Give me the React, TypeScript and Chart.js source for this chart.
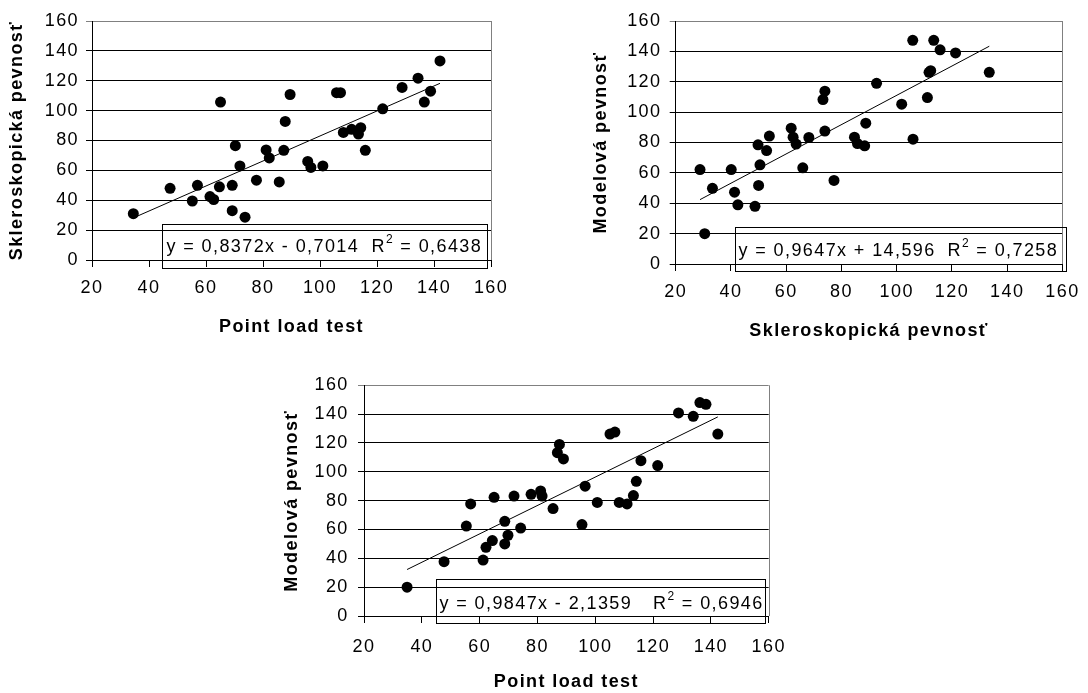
import React, { useEffect, useRef } from "react";
import { Chart, registerables } from "chart.js";

Chart.register(...registerables);

const PAGE_W = 1088;
const PAGE_H = 693;
const FONT = "'Liberation Sans', Arial, Helvetica, sans-serif";
const LETTER_SPACING = "1.4px";

const xTicks = [20, 40, 60, 80, 100, 120, 140, 160];
const yTicks = [0, 20, 40, 60, 80, 100, 120, 140, 160];

// Chart A: Point load test (x) vs Skleroskopická pevnosť (y)
const pointLoadA = [34.5, 47.4, 57, 55.2, 61.4, 62.7, 64.7, 65.1, 69.2, 69.2, 70.3, 71.9, 73.7, 77.7, 81.1, 82.2, 85.7, 87.3, 87.8, 89.5, 95.7, 96.8, 101, 105.8, 107.2, 108.2, 111.1, 113.5, 114.3, 115.9, 122, 128.8, 134.4, 136.6, 138.8, 142.1];
const sklerA = [31, 48, 50, 39.5, 42.5, 40.5, 49, 105.7, 50, 33, 76.5, 63, 28.7, 53.4, 73.7, 68.3, 52.3, 73.4, 92.8, 110.8, 66, 62, 63, 112, 112, 85.4, 87.5, 84.3, 88.6, 73.4, 101.2, 115.5, 121.7, 105.7, 113, 133.3];
const trendA = [0.8372, -0.7014];
const eqA = "y = 0,8372x - 0,7014";
const r2A = "0,6438";

// Chart B: Skleroskopická pevnosť (x) vs Modelová pevnosť (y)
const sklerB = [28.8, 30.5, 33.3, 40.1, 41.3, 42.5, 48.7, 49.8, 50, 50.5, 52.9, 53.9, 61.8, 62.5, 63.6, 66, 68.2, 73.3, 74, 74, 77.3, 84.7, 85.8, 88.4, 88.8, 92.7, 101.8, 105.8, 105.9, 111.1, 111.7, 112.3, 113.4, 115.7, 121.3, 133.5];
const modelB = [62.2, 20, 49.8, 62.2, 47.3, 39, 38, 78.5, 51.7, 65.3, 74.7, 84.2, 89.4, 83.5, 79, 63.3, 83.3, 108.3, 113.8, 87.5, 55, 83.5, 79.3, 77.8, 92.7, 119, 105.2, 147.3, 82.2, 109.6, 126.2, 127.3, 147.3, 141, 139, 126.2];
const trendB = [0.9647, 14.596];
const eqB = "y = 0,9647x + 14,596";
const r2B = "0,7258";

// Chart C: Point load test (x) vs Modelová pevnosť (y)
const pointLoadC = [34.9, 47.7, 55.4, 56.9, 61.2, 62.2, 64.4, 65, 68.7, 68.7, 69.8, 71.9, 74.2, 77.8, 81.1, 81.6, 85.4, 86.9, 87.6, 89, 95.4, 96.5, 100.7, 105.1, 106.8, 108.3, 111, 113.2, 114.2, 115.8, 121.6, 128.8, 133.9, 136.2, 138.3, 142.4];
const modelC = [20, 37.7, 62.4, 77.7, 38.8, 47.6, 52.3, 82.3, 65.7, 50, 56, 83.2, 61, 84.4, 86.7, 83.2, 74.5, 113.3, 119, 108.9, 63.4, 90, 78.8, 126.2, 127.6, 78.8, 77.7, 83.5, 93.4, 107.7, 104.3, 140.8, 138.5, 148, 146.8, 126.2];
const trendC = [0.9847, -2.1359];
const eqC = "y = 0,9847x - 2,1359";
const r2C = "0,6946";

type Spec = {
  xs: number[];
  ys: number[];
  trend: number[];
  eq: string;
  r2: string;
  xTitle: string;
  yTitle: string;
  area: { l: number; r: number; t: number; b: number };
  yW: number;
  xH: number;
  yPad: number;
  xPad: number;
  box: { l: number; t: number; r: number; b: number; tx: number; rx: number; ty: number };
};

const specs: Spec[] = [
  {
    xs: pointLoadA, ys: sklerA, trend: trendA, eq: eqA, r2: r2A,
    xTitle: "Point load test", yTitle: "Skleroskopická pevnosť",
    area: { l: 92, r: 491, t: 21, b: 260 },
    yW: 85.4, xH: 77.8, yPad: 7, xPad: 10,
    box: { l: 162, t: 224, r: 487, b: 268, tx: 166.5, rx: 371.5, ty: 252 },
  },
  {
    xs: sklerB, ys: modelB, trend: trendB, eq: eqB, r2: r2B,
    xTitle: "Skleroskopická pevnosť", yTitle: "Modelová pevnosť",
    area: { l: 675.7, r: 1066.7, t: 21, b: 264 },
    yW: 85.3, xH: 78.3, yPad: 8.3, xPad: 10.5,
    box: { l: 735, t: 227, r: 1066, b: 271, tx: 738.5, rx: 947.5, ty: 256 },
  },
  {
    xs: pointLoadC, ys: modelC, trend: trendC, eq: eqC, r2: r2C,
    xTitle: "Point load test", yTitle: "Modelová pevnosť",
    area: { l: 364, r: 768.7, t: 385.3, b: 616 },
    yW: 82.6, xH: 77, yPad: 9.3, xPad: 13,
    box: { l: 436, t: 579, r: 765, b: 623, tx: 439.5, rx: 653, ty: 608.5 },
  },
];

const framePlugin = {
  id: "frameBox",
  beforeDraw(chart: any) {
    chart.ctx.letterSpacing = LETTER_SPACING;
  },
  beforeDatasetsDraw(chart: any) {
    const { ctx, chartArea: a } = chart;
    ctx.save();
    ctx.strokeStyle = "#808080";
    ctx.lineWidth = 1;
    const x = Math.round(a.right) + 0.5;
    ctx.beginPath();
    ctx.moveTo(x, a.top);
    ctx.lineTo(x, a.bottom);
    ctx.stroke();
    ctx.restore();
  },
  afterDraw(chart: any, _args: any, opts: any) {
    const { ctx } = chart;
    const b = opts.box;
    ctx.save();
    ctx.letterSpacing = LETTER_SPACING;
    ctx.strokeStyle = "#000";
    ctx.lineWidth = 1;
    ctx.strokeRect(Math.round(b.l) + 0.5, Math.round(b.t) + 0.5, Math.round(b.r - b.l), Math.round(b.b - b.t));
    ctx.fillStyle = "#000";
    ctx.textAlign = "left";
    ctx.textBaseline = "alphabetic";
    ctx.font = `18px ${FONT}`;
    ctx.fillText(opts.eq, b.tx, b.ty);
    let x = b.rx;
    ctx.fillText("R", x, b.ty);
    x += ctx.measureText("R").width;
    ctx.font = `12px ${FONT}`;
    ctx.fillText("2", x, b.ty - 9);
    x += ctx.measureText("2").width;
    ctx.font = `18px ${FONT}`;
    ctx.fillText(" = " + opts.r2, x, b.ty);
    ctx.restore();
  },
};

function buildConfig(s: Spec): any {
  const xMin = Math.min(...s.xs);
  const xMax = Math.max(...s.xs);
  const [slope, intercept] = s.trend;
  const trendPts = [
    { x: xMin, y: slope * xMin + intercept },
    { x: xMax, y: slope * xMax + intercept },
  ];
  const pts = s.xs.map((x, i) => ({ x, y: s.ys[i] }));
  const tickFont = { family: FONT, size: 18 };
  const titleFont = { family: FONT, size: 18, weight: "bold" };
  return {
    type: "scatter",
    data: {
      datasets: [
        {
          data: trendPts,
          showLine: true,
          borderColor: "#000",
          borderWidth: 1,
          pointRadius: 0,
          fill: false,
        },
        {
          data: pts,
          showLine: false,
          pointRadius: 5.5,
          pointBackgroundColor: "#000",
          pointBorderColor: "#000",
          pointBorderWidth: 0,
        },
      ],
    },
    options: {
      responsive: false,
      animation: false,
      devicePixelRatio: 1,
      events: [],
      layout: {
        padding: {
          left: s.area.l - s.yW,
          right: PAGE_W - s.area.r,
          top: s.area.t,
          bottom: PAGE_H - s.area.b - s.xH,
        },
      },
      plugins: {
        legend: { display: false },
        tooltip: { enabled: false },
        frameBox: { box: s.box, eq: s.eq, r2: s.r2 },
      },
      scales: {
        x: {
          type: "linear",
          min: 20,
          max: 160,
          afterBuildTicks: (sc: any) => {
            sc.ticks = xTicks.map((v) => ({ value: v }));
          },
          afterFit: (sc: any) => {
            sc.height = s.xH;
          },
          ticks: { color: "#000", font: tickFont, padding: s.xPad, autoSkip: false, maxRotation: 0 },
          grid: { drawOnChartArea: false, drawTicks: true, tickLength: 7, color: "#000", lineWidth: 1 },
          border: { color: "#000", width: 1 },
          title: { display: true, text: s.xTitle, color: "#000", font: titleFont, padding: 0 },
        },
        y: {
          type: "linear",
          min: 0,
          max: 160,
          afterBuildTicks: (sc: any) => {
            sc.ticks = yTicks.map((v) => ({ value: v }));
          },
          afterFit: (sc: any) => {
            sc.width = s.yW;
          },
          ticks: { color: "#000", font: tickFont, padding: s.yPad },
          grid: {
            color: (c: any) => (c.tick && c.tick.value === 160 ? "#808080" : "#000"),
            lineWidth: 1,
            tickLength: 6,
            drawTicks: true,
          },
          border: { color: "#000", width: 1 },
          title: { display: true, text: s.yTitle, color: "#000", font: titleFont, padding: 0 },
        },
      },
    },
    plugins: [framePlugin],
  };
}

function ScatterPanel({ spec }: { spec: Spec }) {
  const ref = useRef<HTMLCanvasElement | null>(null);
  useEffect(() => {
    if (!ref.current) return;
    const chart = new Chart(ref.current, buildConfig(spec));
    return () => chart.destroy();
  }, [spec]);
  return (
    <canvas
      ref={ref}
      width={PAGE_W}
      height={PAGE_H}
      style={{ position: "absolute", left: 0, top: 0, width: PAGE_W, height: PAGE_H }}
    />
  );
}

export default function App() {
  return (
    <div
      style={{
        position: "absolute",
        left: 0,
        top: 0,
        width: PAGE_W,
        height: PAGE_H,
        background: "#fff",
        overflow: "hidden",
      }}
    >
      {specs.map((s, i) => (
        <ScatterPanel key={i} spec={s} />
      ))}
    </div>
  );
}
